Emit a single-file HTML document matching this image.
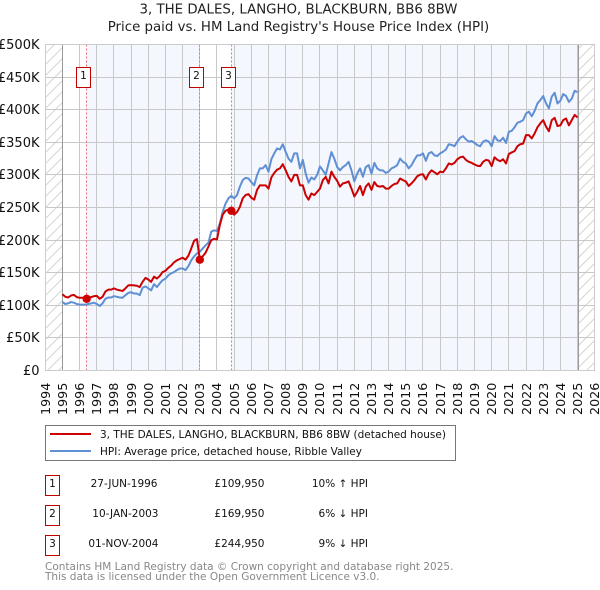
<!DOCTYPE html>
<html><head><meta charset="utf-8"><title>3, THE DALES, LANGHO, BLACKBURN, BB6 8BW</title>
<style>
html,body{margin:0;padding:0;background:#fff;width:600px;height:590px;overflow:hidden}
svg{display:block;font-family:"DejaVu Sans","Liberation Sans",sans-serif}
</style></head>
<body>
<svg id="chart" xmlns="http://www.w3.org/2000/svg" width="600" height="590" viewBox="0 0 600 590">
<defs>
<pattern id="hatch" patternUnits="userSpaceOnUse" width="11" height="11">
<path d="M-1 12 L12 -1 M-1 1 L1 -1 M10 12 L12 10" stroke="#d4d4d4" stroke-width="1" fill="none"/>
</pattern>
</defs>
<g id="plot"></g>
<g text-anchor="middle" fill="#222">
<text x="298.500" y="13.500" font-size="13.35">3, THE DALES, LANGHO, BLACKBURN, BB6 8BW</text>
<text x="298.500" y="31" font-size="13.35">Price paid vs. HM Land Registry's House Price Index (HPI)</text>
</g>
<g>
<rect x="45.5" y="425.5" width="410" height="35" fill="#fff" stroke="#777" stroke-width="1"/>
<line x1="50" x2="91" y1="434" y2="434" stroke="#cc0000" stroke-width="2"/>
<line x1="50" x2="91" y1="451" y2="451" stroke="#5f8fd4" stroke-width="2"/>
<text x="100" y="438" font-size="10.5" fill="#111">3, THE DALES, LANGHO, BLACKBURN, BB6 8BW (detached house)</text>
<text x="100" y="455" font-size="10.5" fill="#111">HPI: Average price, detached house, Ribble Valley</text>
</g>
<g font-size="10.5" fill="#111">
<g>
<rect x="45.5" y="475.500" width="14" height="20" fill="#fff" stroke="#c00000"/>
<text x="52.5" y="487" text-anchor="middle">1</text>
<text x="157.500" y="487" text-anchor="end">27-JUN-1996</text>
<text x="264.500" y="487" text-anchor="end">£109,950</text>
<text x="368" y="487" text-anchor="end">10% ↑ HPI</text>
</g>
<g>
<rect x="45.5" y="505.500" width="14" height="20" fill="#fff" stroke="#c00000"/>
<text x="52.5" y="517" text-anchor="middle">2</text>
<text x="158.500" y="517" text-anchor="end">10-JAN-2003</text>
<text x="264.500" y="517" text-anchor="end">£169,950</text>
<text x="368" y="517" text-anchor="end">6% ↓ HPI</text>
</g>
<g>
<rect x="45.5" y="535.500" width="14" height="20" fill="#fff" stroke="#c00000"/>
<text x="52.5" y="547" text-anchor="middle">3</text>
<text x="158.500" y="547" text-anchor="end">01-NOV-2004</text>
<text x="264.500" y="547" text-anchor="end">£244,950</text>
<text x="368" y="547" text-anchor="end">9% ↓ HPI</text>
</g>
</g>
<g font-size="10.5" fill="#888">
<text x="45" y="570">Contains HM Land Registry data © Crown copyright and database right 2025.</text>
<text x="45" y="580">This data is licensed under the Open Government Licence v3.0.</text>
</g>
</svg>
<script>
const yearTicks = [1994,1995,1996,1997,1998,1999,2000,2001,2002,2003,2004,2005,2006,2007,2008,2009,2010,2011,2012,2013,2014,2015,2016,2017,2018,2019,2020,2021,2022,2023,2024,2025,2026];
const valueTicks = [0,50,100,150,200,250,300,350,400,450,500];
const valueTickLabels = ['£0','£50K','£100K','£150K','£200K','£250K','£300K','£350K','£400K','£450K','£500K'];
const seriesStartYear = 1995;
const pointsPerYear = 6;
const priceSeries = [117,113,112,115,116,112.5,111.5,111.5,111,112,112.5,114,114.5,110,113,121,124,124,126,124,123,122,126,130.5,131,130.5,130,128,136,142,139.5,136,144,141,145,151,153,157.5,161,166,169,171,173,170,176,187,199,201.5,170,175,180.5,190,200,202,201,223,239,245,247,245,239,243,251,264,269,270.5,265,262,277,284,284,284,279,296,303,308,310,316.5,307,297,290,300,300,284,284,269,262,271.5,269,274,279,292,297,287,305,297,291,282,287,288,290,279,267,274,283,269,282,287,277,289,283,282,283,279,279,283,286,287,294.5,292,290,283,287,292,298,300.5,301,293,302,307,304,301,305,304,310,317.5,316,318.5,324,327,328,323,320,318.5,316,314,313.5,320,323,322,313.5,327,323,321,324,317.5,332,334.5,336.5,344,347,348,361,361,356,363.5,373,379,384,374,367,384,387.5,375,376,384,386.5,376,384,392,388];
const hpiSeries = [105,102,103,105,104,102,101,101,101,102,103,104,102,99,103,110,112,112,114,113,112,111.5,115.5,119,120,118,118,115.5,127,129,126,123,132.5,128,133.5,138.5,141,146,149,151,154,156.5,156.5,154,160,169,175,179.5,182,187,192,196,213,215,214,225.5,243.5,256,264,268,264,269,282,292,295.5,294.5,289,284,299.5,310,310,315,305,324,333,340.5,339,347,335.5,325,320,333,333,310,323,302,288,296,293,300,313,307,300,317.5,335,325,312,307,312,315,320,307,290,302,310,297,312,315,302,318.5,310,307,307,303,305,310,312,315,325,320,317.5,310,315,323,330,330,333,321.6,333,335,330,329,333,335.5,339,347,346,344,351,357,359.5,354.5,351,352,349,345.6,344,351,353,351,344,359.5,353,352,357,349,366,367.6,373,380,381.5,384,394,397,390,398,409.6,414.7,421,409.6,402,420,426,409.6,413.7,424,421,412,417,429,427];
const saleDates = [1996.41,2003.0,2004.84];
const salePrices = [109.95,169.95,244.95];
const saleLabels = ['1','2','3'];

const NS = 'http://www.w3.org/2000/svg';
const plot = document.getElementById('plot');
const X0 = 45.3, XPY = 17.168, Y0 = 370.5, YPK = 0.652;
const PLOT_TOP = 44.5, PLOT_BOTTOM = 370.5, PLOT_LEFT = 45.5, PLOT_RIGHT = 594.5;
function xScale(year){ return X0 + (year - 1994) * XPY; }
function yScale(value){ return Y0 - value * YPK; }
function snap(p){ return Math.floor(p) + 0.5; }
function make(tag, attrs, parent){
  const el = document.createElementNS(NS, tag);
  for (const k in attrs) el.setAttribute(k, attrs[k]);
  (parent || plot).appendChild(el);
  return el;
}
function linePath(values){
  return values.map(function(v, i){
    const yr = seriesStartYear + i / pointsPerYear;
    return (i ? 'L' : 'M') + xScale(yr).toFixed(2) + ' ' + yScale(v).toFixed(2);
  }).join(' ');
}

// shaded ownership periods
const shadeA = make('rect', {x: xScale(saleDates[0]), y: PLOT_TOP, width: xScale(saleDates[1]) - xScale(saleDates[0]), height: PLOT_BOTTOM - PLOT_TOP, fill: '#f4f7fe'});


const shadeB = make('rect', {x: xScale(saleDates[2]), y: PLOT_TOP, width: xScale(2025) - xScale(saleDates[2]), height: PLOT_BOTTOM - PLOT_TOP, fill: '#f4f7fe'});


// hatched out-of-range regions
const hatchL = make('rect', {x: PLOT_LEFT, y: PLOT_TOP, width: snap(xScale(1995)) - PLOT_LEFT, height: PLOT_BOTTOM - PLOT_TOP, fill: 'url(#hatch)'});


const hatchR = make('rect', {x: 578.5, y: PLOT_TOP, width: PLOT_RIGHT - 578.5, height: PLOT_BOTTOM - PLOT_TOP, fill: 'url(#hatch)'});



// vertical grid and year labels
yearTicks.forEach(function(yr){
  const x = snap(xScale(yr));
  const grid = make('line', {x1: x, x2: x, y1: PLOT_TOP, y2: PLOT_BOTTOM, stroke: '#c8c8c8', 'stroke-width': 1});
  
  
  const t = make('text', {transform: 'translate(' + (x + 4.5) + ',415) rotate(-90)', 'font-size': 12.7, fill: '#111'});
  
  
  t.textContent = yr;
});
// horizontal grid and value labels
valueTicks.forEach(function(v, i){
  const y = snap(yScale(v));
  const grid = make('line', {x1: PLOT_LEFT, x2: PLOT_RIGHT, y1: y, y2: y, stroke: '#c8c8c8', 'stroke-width': 1});
  
  
  const t = make('text', {x: 39.5, y: y + 4.5, 'text-anchor': 'end', 'font-size': 13, fill: '#111'});
  
  
  t.textContent = valueTickLabels[i];
});
// data-range bounds
const boundL = make('line', {x1: 62.5, x2: 62.5, y1: PLOT_TOP, y2: PLOT_BOTTOM, stroke: '#999', 'stroke-width': 1});


const boundR = make('line', {x1: 578.5, x2: 578.5, y1: PLOT_TOP, y2: PLOT_BOTTOM, stroke: '#999', 'stroke-width': 1});


// sale date lines
saleDates.forEach(function(d){
  const x = snap(xScale(d));
  const l = make('line', {x1: x, x2: x, y1: PLOT_TOP, y2: PLOT_BOTTOM, stroke: '#f0707e', 'stroke-width': 1, 'stroke-dasharray': '2 2'});
  
  
});
// series
const hpiLine = make('path', {d: linePath(hpiSeries), fill: 'none', stroke: '#5f8fd4', 'stroke-width': 2, 'stroke-linejoin': 'round'});


const priceLine = make('path', {d: linePath(priceSeries), fill: 'none', stroke: '#cc0000', 'stroke-width': 2, 'stroke-linejoin': 'round'});


// sale points and label boxes
saleDates.forEach(function(d, i){
  const cx = xScale(d);
  const dot = make('circle', {cx: cx, cy: yScale(salePrices[i]), r: 4.2, fill: '#cc0000'});
  
  
  const boxX = Math.floor(cx) - 9.5;
  const box = make('rect', {x: boxX, y: 67.5, width: 14, height: 20, fill: '#fff', stroke: '#c00000', 'stroke-width': 1});
  
  
  const t = make('text', {x: boxX + 7, y: 79, 'text-anchor': 'middle', 'font-size': 10.5, fill: '#111'});
  
  
  t.textContent = saleLabels[i];
});
// outer frame
const frame = make('rect', {x: PLOT_LEFT, y: PLOT_TOP, width: PLOT_RIGHT - PLOT_LEFT, height: PLOT_BOTTOM - PLOT_TOP, fill: 'none', stroke: '#ccc', 'stroke-width': 1});


</script>
</body></html>
